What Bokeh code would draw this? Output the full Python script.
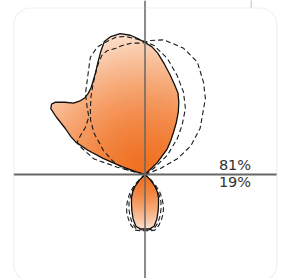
import math
from bokeh.plotting import figure
from bokeh.models import Range1d, Span, BoxAnnotation, Label, ColumnDataSource
from bokeh.embed import file_html
from bokeh.resources import INLINE

# ---------------- data (polar samples: angle in degrees, radius in chart units) -------------
solid_upper_angle = [38, 44, 49, 53, 56, 59, 62, 65, 68, 72, 76, 80, 84, 87, 90, 93, 96, 100,
                     104, 107, 110, 113, 116, 119, 122, 125, 128, 131, 135, 138, 141, 143, 145,
                     147, 150, 153, 155, 157, 159, 161, 162, 163]
solid_upper_radius = [0, 17, 34, 43, 51, 61, 71, 80, 88, 95, 103, 112, 122, 128, 132, 136, 140, 143,
                      142, 139, 130, 121, 113, 107, 102, 99, 97.5, 98, 101, 108, 115, 117, 115,
                      106, 92, 83, 76, 62, 45, 25, 12, 0]
solid_lower_angle = [220, 225, 230, 235, 240, 245, 250, 255, 260, 265, 270, 275, 280, 285, 290,
                     295, 300, 305, 310, 315, 320]
solid_lower_radius = [0, 8, 15.5, 21.5, 27, 32, 38.5, 46, 52.5, 54.6, 54.5, 54.6, 52.5, 46, 38.5,
                      32, 27, 21.5, 15.5, 8, 0]

dash_a_upper_angle = [18, 21, 26, 32, 40, 47, 51.5, 57.5, 65, 73, 82, 88, 91, 96, 100, 103, 107,
                      110, 113, 116, 120, 125, 130, 135, 141, 150, 158, 165, 170]
dash_a_upper_radius = [0, 16.6, 36, 54, 72, 85, 97, 109, 124, 132, 136, 134, 131.5, 132, 131,
                       129.5, 129.5, 126.5, 120, 112.5, 104, 94.3, 85, 77, 65.5, 48, 34, 22, 0]
dash_a_lower_angle = [218, 222, 226, 230, 235, 240, 245, 250, 255, 260, 265, 270, 275, 280, 285,
                      290, 295, 300, 305, 310, 314, 318, 322]
dash_a_lower_radius = [0, 8, 16, 23, 30, 37, 43, 48, 53, 56.5, 56.5, 56, 56.5, 56.5, 53, 48, 43,
                       37, 30, 23, 16, 8, 0]

dash_b_upper_angle = [34, 35, 40.6, 48, 53, 58.5, 65, 72, 79, 86, 90, 94, 98, 102, 106.6, 110.6,
                      115, 117.6, 121.6, 126.4, 130.7, 134.4, 141.5, 148.8, 154.5, 156.3, 163,
                      165.3, 167]
dash_b_upper_radius = [0, 10.4, 29.2, 48.3, 61.5, 77.4, 91, 104, 118, 129.3, 133, 136, 139.4,
                       140.4, 138.1, 136, 129.3, 121, 110.3, 100.3, 88.7, 80.3, 76, 75.4, 75.1,
                       72.3, 53.6, 28.7, 0]
dash_b_lower_angle = [220, 224, 228, 232, 236, 240, 245, 250, 255, 260, 265, 270, 275, 280, 285,
                      290, 295, 300, 304, 308, 312, 316, 320]
dash_b_lower_radius = [0, 7, 14, 20, 26, 32, 38, 44, 50, 54.5, 55.5, 55.5, 55.5, 54.5, 50, 44, 38,
                       32, 26, 20, 14, 7, 0]

share_labels = ["81%", "19%"]

# ---------------- helpers -------------
def to_xy(angles, radii, cap=None):
    xs, ys = [], []
    for a, r in zip(angles, radii):
        rr = r if cap is None else min(r, cap)
        t = math.radians(a)
        xs.append(rr * math.cos(t))
        ys.append(rr * math.sin(t))
    return xs, ys

DARK = (240, 112, 32)
LIGHT = (252, 224, 204)

def shade(t):
    f = t ** 1.6
    c = [round(DARK[i] + (LIGHT[i] - DARK[i]) * f) for i in range(3)]
    return "#%02x%02x%02x" % tuple(c)

W, H = 282, 278
OX, OY = 144.5, 174  # origin position on the canvas (px from left / top)

p = figure(width=W, height=H, output_backend="svg", toolbar_location=None,
           x_range=Range1d(-OX, W - OX), y_range=Range1d(OY - H, OY),
           x_axis_type=None, y_axis_type=None, min_border=0)
p.grid.visible = False
p.outline_line_color = None
p.background_fill_color = "white"
p.border_fill_color = "white"

# gradient fill: radial, clipped to each lobe
N = 48
gx, gy, gc = [], [], []
for angles, radii in [(solid_upper_angle, solid_upper_radius),
                      (solid_lower_angle, solid_lower_radius)]:
    rmax = max(radii)
    for k in range(N, 0, -1):
        cap = rmax * k / N
        xs, ys = to_xy(angles, radii, cap)
        gx.append(xs)
        gy.append(ys)
        gc.append(shade(k / N))
p.patches(xs="xs", ys="ys", fill_color="color", line_color=None,
          source=ColumnDataSource(dict(xs=gx, ys=gy, color=gc)))

# dashed comparison outlines
for angles, radii in [(dash_a_upper_angle, dash_a_upper_radius),
                      (dash_a_lower_angle, dash_a_lower_radius),
                      (dash_b_upper_angle, dash_b_upper_radius),
                      (dash_b_lower_angle, dash_b_lower_radius)]:
    xs, ys = to_xy(angles, radii)
    p.line(xs, ys, line_color="#1a1a1a", line_width=1.1, line_dash="5 3")

# solid outline
for angles, radii in [(solid_upper_angle, solid_upper_radius),
                      (solid_lower_angle, solid_lower_radius)]:
    xs, ys = to_xy(angles, radii)
    p.patch(xs, ys, fill_color=None, line_color="#111111", line_width=1.3)

# axes through the origin
p.add_layout(Span(location=0, dimension="height", line_color="#666666", line_width=1.5))
p.segment(x0=[-131.2], y0=[0], x1=[131.8], y1=[0], line_color="#666666", line_width=2)

# rounded frame and the connector stub above it
p.add_layout(BoxAnnotation(left=-131.2, right=131.8, top=166.5, bottom=-107,
                           fill_alpha=0, line_color="#c8ccd2", line_width=1.2,
                           border_radius=17))
p.segment(x0=[106.2], y0=[166.5], x1=[106.2], y1=[175], line_color="#c8ccd2", line_width=1.2)

# shares
p.add_layout(Label(x=90, y=9.5, text=share_labels[0], text_align="center",
                   text_baseline="middle", text_font="DejaVu Sans",
                   text_font_size="14.5px", text_color="#333333"))
p.add_layout(Label(x=90, y=-7, text=share_labels[1], text_align="center",
                   text_baseline="middle", text_font="DejaVu Sans",
                   text_font_size="14.5px", text_color="#333333"))

open("out.html", "w").write(file_html(p, INLINE))
